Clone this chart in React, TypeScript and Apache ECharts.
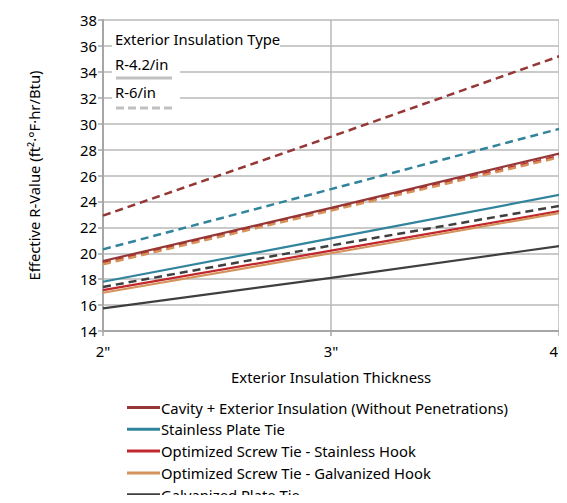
import React, { useEffect, useRef } from "react";
import * as echarts from "echarts";

const thickness = [2, 3, 4];
const seriesNames = [
  "Cavity + Exterior Insulation (Without Penetrations)",
  "Stainless Plate Tie",
  "Optimized Screw Tie - Stainless Hook",
  "Optimized Screw Tie - Galvanized Hook",
  "Galvanized Plate Tie",
];
const colors = ["#953735", "#31849B", "#C0282D", "#D4935A", "#3F3F3F"];
const r42 = [
  [19.4, 23.5, 27.7],
  [17.8, 21.15, 24.5],
  [17.15, 20.2, 23.25],
  [16.95, 20.0, 23.1],
  [15.75, 18.1, 20.55],
];
const r6 = [
  [22.9, 29.0, 35.2],
  [20.3, 24.95, 29.6],
  [19.25, 23.4, 27.5],
  [19.15, 23.3, 27.4],
  [17.4, 20.6, 23.65],
];
const insulationTypes = ["R-4.2/in", "R-6/in"];
const legendTitle = "Exterior Insulation Type";
const xTickLabel = (v: number) => (v === 4 ? `{r|${v}"}` : `${v}"`);

const FONT = "Noto Sans";
const FS = 14.8;

export default function App() {
  const ref = useRef<HTMLDivElement>(null);
  useEffect(() => {
    if (!ref.current) return;
    const chart = echarts.init(ref.current, undefined, { renderer: "svg" });
    const series: any[] = [];
    r6.forEach((vals, i) => {
      series.push({
        name: seriesNames[i] + " (" + insulationTypes[1] + ")",
        type: "line",
        data: thickness.map((t, j) => [t, vals[j]]),
        showSymbol: false,
        lineStyle: { color: colors[i], width: 2.5, type: [8, 5] },
        itemStyle: { color: colors[i] },
        z: 2,
      });
    });
    r42.forEach((vals, i) => {
      series.push({
        name: seriesNames[i],
        type: "line",
        data: thickness.map((t, j) => [t, vals[j]]),
        showSymbol: false,
        lineStyle: { color: colors[i], width: 2.2 },
        itemStyle: { color: colors[i] },
        z: 3,
      });
    });
    const textStyle = { fontFamily: FONT, fontSize: FS, fill: "#000" };
    chart.setOption({
      animation: false,
      grid: { left: 103, right: 7, top: 20, bottom: 172 },
      xAxis: {
        type: "value",
        min: 2,
        max: 4,
        interval: 1,
        name: "Exterior Insulation Thickness",
        nameLocation: "middle",
        nameGap: 38,
        nameTextStyle: { fontFamily: FONT, fontSize: FS, color: "#000" },
        axisLine: { show: true, lineStyle: { color: "#a6a6a6", width: 2 } },
        axisTick: { show: true, length: 5, lineStyle: { color: "#a6a6a6", width: 1.5 } },
        axisLabel: {
          formatter: xTickLabel,
          fontFamily: FONT,
          fontSize: FS,
          color: "#000",
          margin: 12,
          rich: { r: { fontFamily: FONT, fontSize: FS, color: "#000", padding: [0, 5, 0, 0] } },
        },
        splitLine: { show: true, lineStyle: { color: "#b8b8b8", width: 1.5 } },
      },
      yAxis: {
        type: "value",
        min: 14,
        max: 38,
        interval: 2,
        name: "Effective R-Value (ft²·°F·hr/Btu)",
        nameLocation: "middle",
        nameGap: 62,
        nameTextStyle: { fontFamily: FONT, fontSize: FS, color: "#000" },
        axisLine: { show: true, lineStyle: { color: "#a6a6a6", width: 2 } },
        axisTick: { show: true, length: 5, lineStyle: { color: "#a6a6a6", width: 1.5 } },
        axisLabel: { fontFamily: FONT, fontSize: FS, color: "#000", margin: 6 },
        splitLine: { show: true, lineStyle: { color: "#b8b8b8", width: 1.5 } },
      },
      legend: {
        data: seriesNames,
        orient: "vertical",
        left: 127,
        top: 400,
        height: 140,
        itemWidth: 33,
        itemHeight: 3,
        itemGap: 6.8,
        icon: "rect",
        padding: 0,
        textStyle: {
          fontFamily: FONT,
          fontSize: FS,
          color: "#000",
          lineHeight: 14,
          padding: [0, 0, 0, -4],
        },
      },
      graphic: [
        { type: "rect", left: 112, top: 32, shape: { width: 168, height: 18 }, style: { fill: "#fff" }, z: 10 },
        { type: "rect", left: 112, top: 55, shape: { width: 68, height: 58 }, style: { fill: "#fff" }, z: 10 },
        { type: "text", left: 115, top: 31, style: { ...textStyle, text: legendTitle }, z: 11 },
        { type: "text", left: 115, top: 56, style: { ...textStyle, text: insulationTypes[0] }, z: 11 },
        { type: "text", left: 115, top: 84, style: { ...textStyle, text: insulationTypes[1] }, z: 11 },
        {
          type: "line",
          shape: { x1: 116, y1: 78, x2: 172, y2: 78 },
          style: { stroke: "#c0c0c0", lineWidth: 3 },
          z: 11,
        },
        {
          type: "line",
          shape: { x1: 116, y1: 108, x2: 174, y2: 108 },
          style: { stroke: "#c0c0c0", lineWidth: 3, lineDash: [8, 4] },
          z: 11,
        },
      ],
      series,
    });
    return () => chart.dispose();
  }, []);
  return <div ref={ref} style={{ width: 567, height: 503, margin: -8 }} />;
}
